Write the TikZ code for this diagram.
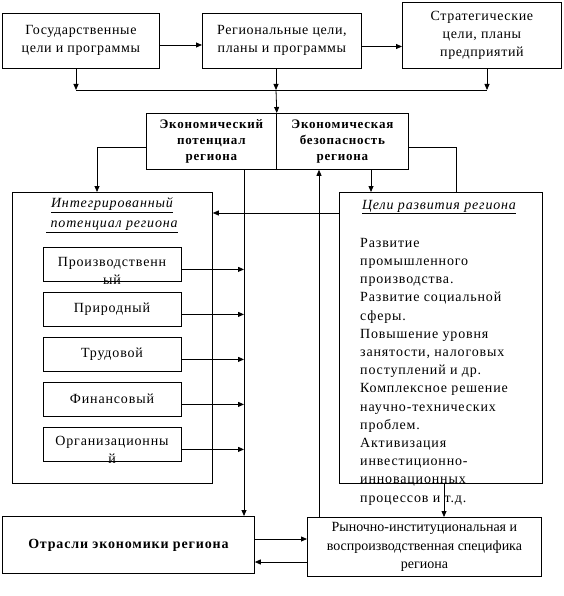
\documentclass[tikz,border=0pt]{standalone}
\usepackage{fontspec}
\setmainfont[LetterSpace=6]{Liberation Serif}
\newfontfamily\topfont[LetterSpace=4.5]{Liberation Serif}
\newfontfamily\plainfont{Liberation Serif}
\usetikzlibrary{arrows.meta}
\newcommand\fs{\fontsize{14}{18}\selectfont}
\newcommand\fb{\fontsize{13}{16}\selectfont\bfseries}
\begin{document}
\begin{tikzpicture}[x=1pt,y=-1pt,
  box/.style={draw, line width=0.8pt, inner sep=0pt, anchor=north west, align=center, font=\fs},
  topbox/.style={box, font=\topfont\fs},
  sbox/.style={box, minimum width=138pt, minimum height=34pt},
  txt/.style={inner sep=0pt, align=center, font=\fs},
  ln/.style={line width=0.8pt},
  arr/.style={ln, -{Triangle[length=6pt,width=5pt]}}]
\useasboundingbox (0,0) rectangle (563,596);
% boxes
\node[topbox, minimum width=157pt, minimum height=55pt] (gos) at (2,13) {Государственные\\цели и программы};
\node[topbox, minimum width=159pt, minimum height=55pt] (reg) at (202,13) {Региональные цели,\\планы и программы};
\node[topbox, minimum width=159pt, minimum height=66pt] (str) at (402,2) {Стратегические\\цели, планы\\предприятий};
\node[box, font=\fb, minimum width=130pt, minimum height=56pt] (epl) at (146,113) {Экономический\\потенциал\\региона};
\node[box, font=\fb, minimum width=132pt, minimum height=56pt] (ebez) at (276,113) {Экономическая\\безопасность\\региона};
\node[box, minimum width=200pt, minimum height=291pt] (ipr) at (12,192) {};
\node[box, minimum width=203pt, minimum height=291pt] (cel) at (339,192) {};
\node[sbox] (p1) at (43,247) {};
\node[sbox] (p2) at (43,292) {};
\node[sbox] (p3) at (43,337) {};
\node[sbox] (p4) at (43,382) {};
\node[sbox] (p5) at (43,427) {};
\node[box, font=\fontsize{14}{18}\selectfont\bfseries, minimum width=252pt, minimum height=57pt] (otr) at (2,516) {Отрасли экономики региона};
\node[box, font=\plainfont\fontsize{14}{18.5}\selectfont, minimum width=234pt, minimum height=59pt] (ryn) at (307,517) {Рыночно-институциональная и\\воспроизводственная специфика\\региона};
% texts
\node[txt, font=\fontsize{14}{20}\selectfont\itshape] (tip) at (112,215) {\underline{Интегрированный}\\\underline{ потенциал региона}};
\node[txt] (t1) at (112,271) {Производственн\\ый};
\node[txt] (t2) at (112,309) {Природный};
\node[txt] (t3) at (112,354) {Трудовой};
\node[txt] (t4) at (112,399) {Финансовый};
\node[txt] (t5) at (112,450) {Организационны\\й};
\node[txt, font=\fs\itshape] (tcel) at (439,207) {\underline{Цели развития региона}};
\node[txt, anchor=north west, align=left, font=\fontsize{14}{18.2}\selectfont] (body) at (360,238) {Развитие\\промышленного\\производства.\\Развитие социальной\\сферы.\\Повышение уровня\\занятости, налоговых\\поступлений и др.\\Комплексное решение\\научно-технических\\проблем.\\Активизация\\инвестиционно-\\инновационных\\процессов и т.д.};
% helper coordinates
\coordinate (a1) at (0,45);
\coordinate (a2) at (0,46.5);
\coordinate (bus) at (0,90);
\coordinate (xg) at (76,0);
\coordinate (xr) at (276,0);
\coordinate (xs) at (487,0);
\coordinate (yl) at (0,147);
\coordinate (xl) at (97,0);
\coordinate (xrr) at (456,0);
\coordinate (xd) at (371,0);
\coordinate (xv1) at (244,0);
\coordinate (xv2) at (319,0);
\coordinate (yh) at (0,213);
\coordinate (xb) at (444,0);
\coordinate (yo1) at (0,539);
\coordinate (yo2) at (0,562);
% connectors
\draw[arr] (gos.east |- a1) -- (reg.west |- a1);
\draw[arr] (reg.east |- a2) -- (str.west |- a2);
\draw[arr] (gos.south -| xg) -- (xg |- bus);
\draw[arr] (reg.south -| xr) -- (xr |- bus);
\draw[arr] (str.south -| xs) -- (xs |- bus);
\draw[ln] (xg |- bus) -- (xs |- bus);
\draw[arr] (xr |- bus) -- (epl.north east);
\draw[arr] (epl.west |- yl) -| (ipr.north -| xl);
\draw[ln] (ebez.east |- yl) -| (cel.north -| xrr);
\draw[arr] (ebez.south -| xd) -- (cel.north -| xd);
\draw[arr] (epl.south -| xv1) -- (otr.north -| xv1);
\draw[arr] (ryn.north -| xv2) -- (ebez.south -| xv2);
\draw[arr] (cel.west |- yh) -- (ipr.east |- yh);
\foreach \p in {p1,p2,p3,p4,p5}{
  \coordinate (e\p) at ([yshift=-5pt]\p.east);
  \draw[arr] (e\p) -- (e\p -| xv1);
}
\draw[arr] (cel.south -| xb) -- (ryn.north -| xb);
\draw[arr] (otr.east |- yo1) -- (ryn.west |- yo1);
\draw[arr] (ryn.west |- yo2) -- (otr.east |- yo2);
\end{tikzpicture}
\end{document}
